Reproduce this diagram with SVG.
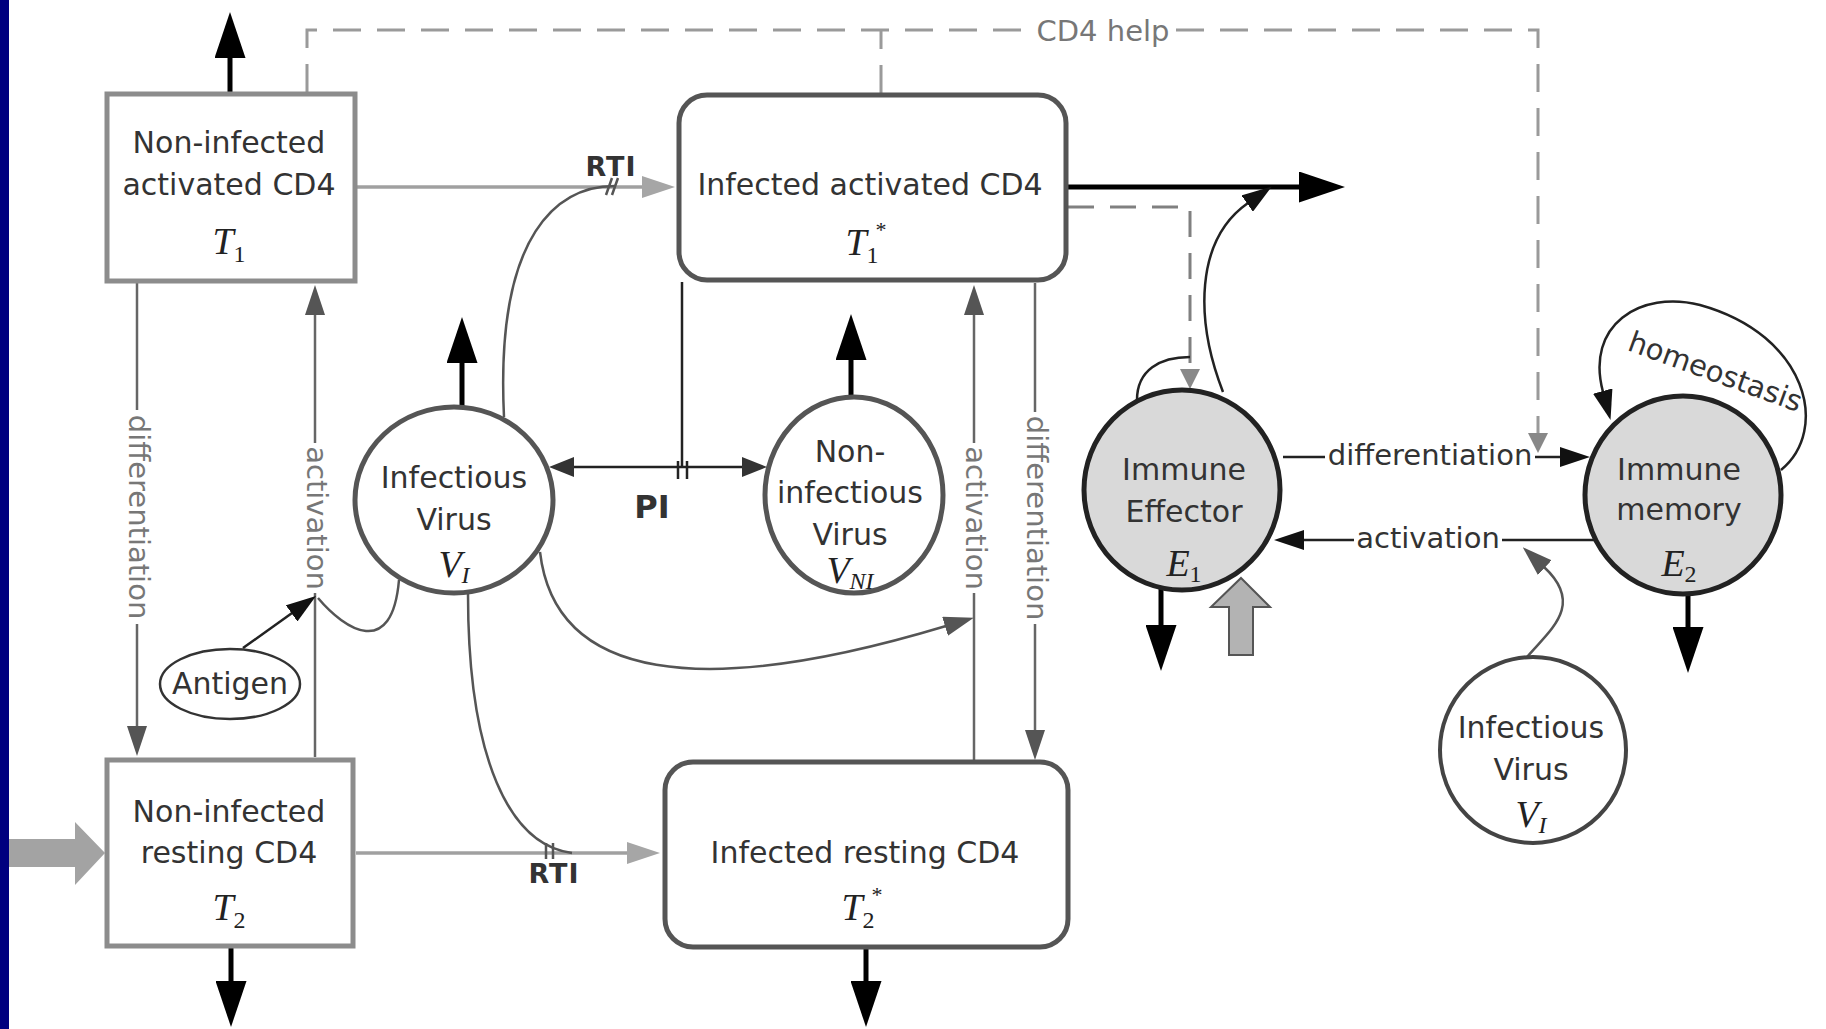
<svg xmlns="http://www.w3.org/2000/svg" width="1826" height="1029" viewBox="0 0 1826 1029">
<defs>
<style>
.n{font-family:"DejaVu Sans","Liberation Sans",sans-serif;font-size:30px;fill:#333;text-anchor:middle}
.e{font-family:"DejaVu Sans","Liberation Sans",sans-serif;font-size:29px;fill:#777;text-anchor:middle}
.ed{font-family:"DejaVu Sans","Liberation Sans",sans-serif;font-size:29px;fill:#333;text-anchor:middle}
.b{font-family:"DejaVu Sans","Liberation Sans",sans-serif;font-weight:bold;fill:#333;text-anchor:middle}
.m{font-family:"Liberation Serif",serif;font-style:italic;font-size:38px;fill:#222;text-anchor:middle}
.sub{font-style:normal;font-size:24px}
.subi{font-style:italic;font-size:24px}
.sup{font-style:normal;font-size:22px}
.boxg{fill:#fff;stroke:#8c8c8c;stroke-width:5}
.boxd{fill:#fff;stroke:#555;stroke-width:5}
.circ{fill:#fff;stroke:#555;stroke-width:5}
.imm{fill:#d9d9d9;stroke:#222;stroke-width:5}
.thick{stroke:#000;stroke-width:5;fill:none}
.gv{stroke:#666;stroke-width:2.5;fill:none}
.lgl{stroke:#a0a0a0;stroke-width:3.5;fill:none}
.cv{stroke:#555;stroke-width:2.5;fill:none}
.bl{stroke:#222;stroke-width:2.5;fill:none}
.dsh{stroke:#9a9a9a;stroke-width:3;fill:none;stroke-dasharray:28 16}
.dsh2{stroke:#808080;stroke-width:3;fill:none;stroke-dasharray:26 16}
</style>
<marker id="big" markerUnits="userSpaceOnUse" markerWidth="46" markerHeight="31" viewBox="0 0 46 31" refX="1" refY="15.5" orient="auto"><path d="M0,0 L46,15.5 L0,31 z" fill="#000"/></marker>
<marker id="lg" markerUnits="userSpaceOnUse" markerWidth="33" markerHeight="22" viewBox="0 0 33 22" refX="1" refY="11" orient="auto"><path d="M0,0 L33,11 L0,22 z" fill="#a6a6a6"/></marker>
<marker id="dk" markerUnits="userSpaceOnUse" markerWidth="30" markerHeight="20" viewBox="0 0 30 20" refX="1" refY="10" orient="auto"><path d="M0,0 L30,10 L0,20 z" fill="#555"/></marker>
<marker id="bk" markerUnits="userSpaceOnUse" markerWidth="30" markerHeight="20" viewBox="0 0 30 20" refX="1" refY="10" orient="auto"><path d="M0,0 L30,10 L0,20 z" fill="#111"/></marker>
<marker id="pi" markerUnits="userSpaceOnUse" markerWidth="25" markerHeight="20" viewBox="0 0 25 20" refX="1" refY="10" orient="auto-start-reverse"><path d="M0,0 L25,10 L0,20 z" fill="#333"/></marker>
<marker id="dg" markerUnits="userSpaceOnUse" markerWidth="20" markerHeight="20" viewBox="0 0 20 20" refX="1" refY="10" orient="auto"><path d="M0,0 L20,10 L0,20 z" fill="#888"/></marker>
</defs>
<rect x="0" y="0" width="1826" height="1029" fill="#fff"/>
<rect x="0" y="0" width="9" height="1029" fill="#00007f"/>

<g id="connectors">
  <!-- CD4 help dashed -->
  <path class="dsh" d="M307 92 V30 H1030"/>
  <path class="dsh" d="M881 93 V30"/>
  <path class="dsh" d="M1176 30 H1538 V434" marker-end="url(#dg)"/>
  <text class="e" x="1103" y="41" font-size="30">CD4 help</text>
  <!-- out arrows -->
  <line class="thick" x1="230" y1="92" x2="230" y2="57" marker-end="url(#big)"/>
  <line class="thick" x1="462" y1="406" x2="462" y2="362" marker-end="url(#big)"/>
  <line class="thick" x1="851" y1="397" x2="851" y2="359" marker-end="url(#big)"/>
  <line class="thick" x1="231" y1="948" x2="231" y2="982" marker-end="url(#big)"/>
  <line class="thick" x1="866" y1="948" x2="866" y2="982" marker-end="url(#big)"/>
  <line class="thick" x1="1161" y1="589" x2="1161" y2="626" marker-end="url(#big)"/>
  <line class="thick" x1="1688" y1="594" x2="1688" y2="628" marker-end="url(#big)"/>
  <line class="thick" x1="1068" y1="187" x2="1300" y2="187" marker-end="url(#big)"/>
  <!-- inputs -->
  <polygon points="9,839 75,839 75,822 105,853 75,885 75,867 9,867" fill="#a3a3a3"/>
  <polygon points="1241,578 1270,607 1253,607 1253,655 1229,655 1229,607 1211,607" fill="#b3b3b3" stroke="#555" stroke-width="2"/>
  <!-- left verticals -->
  <line class="gv" x1="137" y1="283" x2="137" y2="410"/>
  <line class="gv" x1="137" y1="624" x2="137" y2="727" marker-end="url(#dk)"/>
  <text class="e" transform="translate(137 517) rotate(90)" y="8">differentiation</text>
  <line class="gv" x1="315" y1="757" x2="315" y2="593"/>
  <line class="gv" x1="315" y1="443" x2="315" y2="314" marker-end="url(#dk)"/>
  <text class="e" transform="translate(315 518) rotate(90)" y="8">activation</text>
  <!-- right verticals -->
  <line class="gv" x1="974" y1="761" x2="974" y2="593"/>
  <line class="gv" x1="974" y1="443" x2="974" y2="314" marker-end="url(#dk)"/>
  <text class="e" transform="translate(974 518) rotate(90)" y="8">activation</text>
  <line class="gv" x1="1035" y1="283" x2="1035" y2="412"/>
  <line class="gv" x1="1035" y1="624" x2="1035" y2="731" marker-end="url(#dk)"/>
  <text class="e" transform="translate(1035 518) rotate(90)" y="8">differentiation</text>
  <!-- RTI horizontals -->
  <line class="lgl" x1="357" y1="187" x2="643" y2="187" marker-end="url(#lg)"/>
  <line class="lgl" x1="356" y1="853" x2="628" y2="853" marker-end="url(#lg)"/>
  <path class="cv" d="M504 417 C495 230 560 186 615 186"/>
  <path class="cv" d="M468 594 C468 760 510 845 572 853"/>
  <path class="cv" d="M606 195 L612 178 M612 195 L618 178"/>
  <path class="cv" d="M546 843 V859 M553 843 V859"/>
  <text class="b" x="611" y="176" font-size="27" letter-spacing="1">RTI</text>
  <text class="b" x="554" y="883" font-size="27" letter-spacing="1">RTI</text>
  <!-- PI -->
  <line class="bl" x1="682" y1="282" x2="682" y2="467"/>
  <line class="bl" x1="573" y1="467" x2="743" y2="467" marker-start="url(#pi)" marker-end="url(#pi)"/>
  <path class="bl" d="M678 461 V479 M687 461 V479"/>
  <text class="b" x="652" y="518" font-size="32">PI</text>
  <!-- virus curves -->
  <path class="cv" d="M540 552 C555 680 700 700 946 626" marker-end="url(#dk)"/>
  <path class="cv" d="M399 580 C392 660 345 630 318 598"/>
  <line class="bl" x1="243" y1="648" x2="292.4" y2="612.8" marker-end="url(#bk)"/>
  <!-- immune side -->
  <path class="dsh2" d="M1068 207 H1190 V370" marker-end="url(#dg)"/>
  <path class="bl" d="M1137 400 C1137 370 1160 357 1190 357"/>
  <path class="bl" d="M1223 392 C1195 320 1195 240 1248 203" marker-end="url(#bk)"/>
  <line class="bl" x1="1283" y1="457" x2="1325" y2="457"/>
  <line class="bl" x1="1535" y1="457" x2="1561" y2="457" marker-end="url(#bk)"/>
  <text class="ed" x="1430" y="465">differentiation</text>
  <line class="bl" x1="1594" y1="540" x2="1502" y2="540"/>
  <line class="bl" x1="1354" y1="540" x2="1303" y2="540" marker-end="url(#bk)"/>
  <text class="ed" x="1428" y="548">activation</text>
  <path class="cv" d="M1527 657 C1550 630 1585 605 1544 567" marker-end="url(#dk)"/>
  <path class="bl" d="M1781 470 C1830 430 1808 335 1700 305 C1640 290 1585 325 1603 392" marker-end="url(#bk)"/>
  <text class="ed" font-size="23" transform="translate(1712 381) rotate(20)">homeostasis</text>
</g>

<g id="n-T1">
  <rect class="boxg" x="107" y="94" width="248" height="187"/>
  <text class="n" x="229" y="153">Non-infected</text>
  <text class="n" x="229" y="195">activated CD4</text>
  <text class="m" x="229" y="254">T<tspan class="sub" dy="8">1</tspan></text>
</g>
<g id="n-T2">
  <rect class="boxg" x="107" y="760" width="246" height="186"/>
  <text class="n" x="229" y="822">Non-infected</text>
  <text class="n" x="229" y="863">resting CD4</text>
  <text class="m" x="229" y="920">T<tspan class="sub" dy="8">2</tspan></text>
</g>
<g id="n-T1s">
  <rect class="boxd" x="679" y="95" width="387" height="185" rx="28"/>
  <text class="n" x="870" y="195">Infected activated CD4</text>
  <text class="m" x="866" y="255">T<tspan class="sub" dy="8">1</tspan><tspan class="sup" dx="-3" dy="-26">*</tspan></text>
</g>
<g id="n-T2s">
  <rect class="boxd" x="665" y="762" width="403" height="185" rx="28"/>
  <text class="n" x="865" y="863">Infected resting CD4</text>
  <text class="m" x="862" y="920">T<tspan class="sub" dy="8">2</tspan><tspan class="sup" dx="-3" dy="-26">*</tspan></text>
</g>
<g id="n-VI">
  <ellipse class="circ" cx="454" cy="500" rx="99" ry="93"/>
  <text class="n" x="454" y="488">Infectious</text>
  <text class="n" x="454" y="530">Virus</text>
  <text class="m" x="454" y="577">V<tspan class="subi" dy="6">I</tspan></text>
</g>
<g id="n-VNI">
  <ellipse class="circ" cx="854" cy="495" rx="89" ry="98"/>
  <text class="n" x="850" y="462">Non-</text>
  <text class="n" x="850" y="503">infectious</text>
  <text class="n" x="850" y="545">Virus</text>
  <text class="m" x="850" y="583">V<tspan class="subi" dy="6">NI</tspan></text>
</g>
<g id="n-E1">
  <ellipse class="imm" cx="1182" cy="490" rx="98" ry="100"/>
  <text class="n" x="1184" y="480">Immune</text>
  <text class="n" x="1184" y="522">Effector</text>
  <text class="m" x="1184" y="576">E<tspan class="sub" dy="6">1</tspan></text>
</g>
<g id="n-E2">
  <ellipse class="imm" cx="1683" cy="495" rx="98" ry="99"/>
  <text class="n" x="1679" y="480">Immune</text>
  <text class="n" x="1679" y="520">memory</text>
  <text class="m" x="1679" y="576">E<tspan class="sub" dy="6">2</tspan></text>
</g>
<g id="n-VI2">
  <ellipse cx="1533" cy="750" rx="93" ry="93" fill="#fff" stroke="#444" stroke-width="4"/>
  <text class="n" x="1531" y="738">Infectious</text>
  <text class="n" x="1531" y="780">Virus</text>
  <text class="m" x="1531" y="827">V<tspan class="subi" dy="6">I</tspan></text>
</g>
<g id="n-antigen">
  <ellipse cx="230" cy="684" rx="70" ry="35" fill="#fff" stroke="#333" stroke-width="2.5"/>
  <text class="n" x="230" y="694" font-size="29">Antigen</text>
</g>
</svg>
